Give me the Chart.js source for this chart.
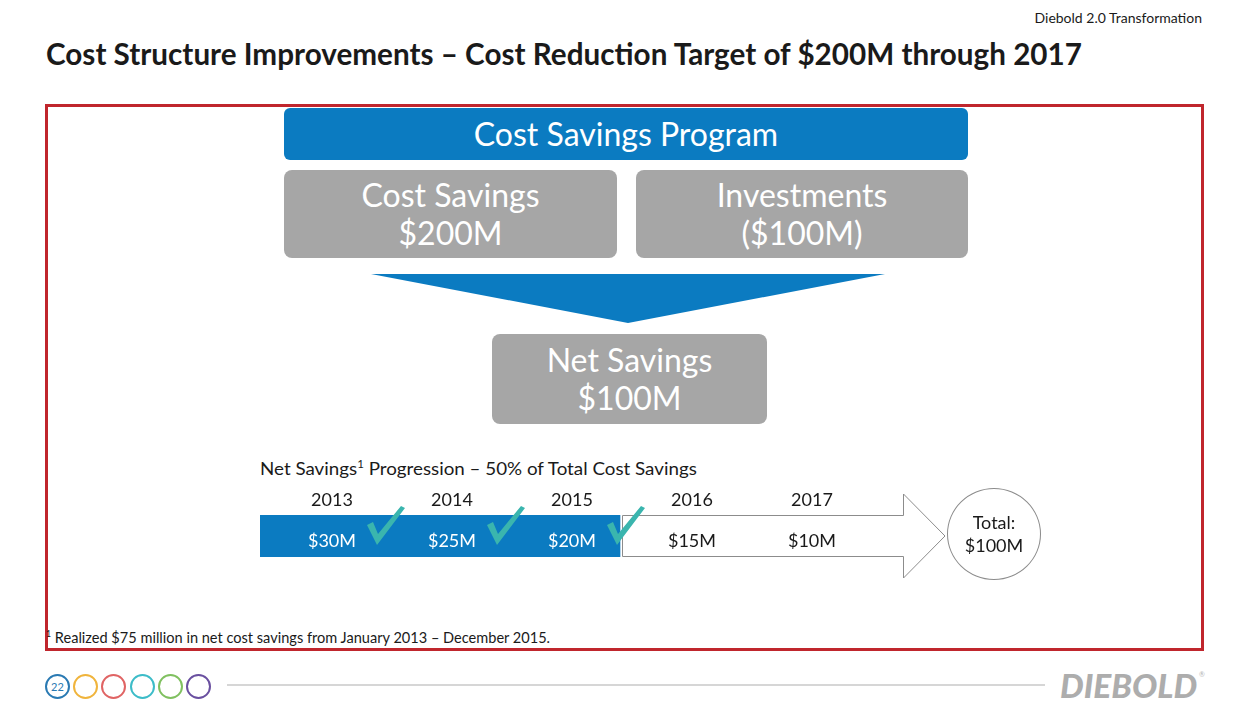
<!DOCTYPE html>
<html>
<head>
<meta charset="utf-8">
<title>Cost Structure Improvements</title>
<script src="https://cdn.jsdelivr.net/npm/chart.js@4"></script>
<style>
  body { margin: 0; width: 1248px; height: 720px; background: #fff; position: relative; overflow: hidden;
         font-family: Lato, 'Open Sans', sans-serif; color: #1a1a1a; }
  .abs { position: absolute; white-space: nowrap; line-height: 1; }
  .fit { transform-origin: left top; }
  .box { position: absolute; display: flex; flex-direction: column; align-items: center; justify-content: center;
         color: #fff; font-size: 32px; line-height: 38px; border-radius: 8px; }
  .grey { background: #a6a6a6; }
  .dot { position: absolute; top: 674px; width: 21px; height: 21px; border: 2px solid; border-radius: 50%;
         font-size: 11px; line-height: 21px; text-align: center; }
</style>
</head>
<body>
  <div class="abs" style="right:46px; top:11px; font-size:14px;">Diebold 2.0 Transformation</div>
  <div class="abs fit" data-w="1036" style="left:46px; top:38px; font-size:30px; font-weight:700;">Cost Structure Improvements – Cost Reduction Target of $200M through 2017</div>

  <div style="position:absolute; left:45px; top:104px; width:1153px; height:541px; border:3px solid #c0262d;"></div>

  <div class="box" style="left:284px; top:108px; width:684px; height:52px; background:#0b7bc1; border-radius:6px;">Cost Savings Program</div>
  <div class="box grey" style="left:284px; top:170px; width:333px; height:88px;"><div>Cost Savings</div><div>$200M</div></div>
  <div class="box grey" style="left:636px; top:170px; width:332px; height:88px;"><div>Investments</div><div>($100M)</div></div>
  <svg style="position:absolute; left:0; top:0;" width="1248" height="340">
    <polygon points="371,274 885,274 628,323" fill="#0b7bc1"/>
  </svg>
  <div class="box grey" style="left:492px; top:334px; width:275px; height:90px;"><div>Net Savings</div><div>$100M</div></div>

  <div class="abs fit" data-w="437" style="left:260px; top:458px; font-size:18px;">Net Savings<sup style="font-size:11px;">1</sup> Progression – 50% of Total Cost Savings</div>

  <canvas id="progression" width="720" height="110" style="position:absolute; left:240px; top:480px;"></canvas>

  <div style="position:absolute; left:947px; top:488px; width:92px; height:90px; border:1.5px solid #8c8c8c; border-radius:50%;
              display:flex; flex-direction:column; align-items:center; justify-content:center; font-size:18px; line-height:23px;">
    <div>Total:</div><div id="totalLabel"></div>
  </div>

  <div class="abs fit" data-w="504" style="left:46px; top:629px; font-size:15px;"><sup style="font-size:9px;">1</sup> Realized $75 million in net cost savings from January 2013 – December 2015.</div>

  <div class="dot" style="left:45px; border-color:#2a7ab3; color:#2a7ab3;">22</div>
  <div class="dot" style="left:73px; border-color:#f0b43c;"></div>
  <div class="dot" style="left:101px; border-color:#e06464;"></div>
  <div class="dot" style="left:130px; border-color:#3cbcc8;"></div>
  <div class="dot" style="left:158px; border-color:#80c060;"></div>
  <div class="dot" style="left:186px; border-color:#6a50a0;"></div>
  <div style="position:absolute; left:227px; top:684px; width:818px; height:2px; background:#d6d6d6;"></div>
  <div class="abs fit" data-w="137" style="left:1060px; top:670px; font-size:32px; font-weight:900; font-style:italic; color:#adadad;">DIEBOLD</div>
  <div class="abs" style="left:1199px; top:671px; font-size:7px; color:#b4b4b4;">®</div>

<script>
// Net savings progression, $M per year
const years = ['2013', '2014', '2015', '2016', '2017'];
const netSavings = [30, 25, 20, 15, 10];
const realized = [true, true, true, false, false];
const totalNetSavings = 100;

const blue = '#0b7bc1';
const teal = '#3ab5ae';

document.getElementById('totalLabel').textContent = `$${totalNetSavings}M`;

// squeeze wide texts to the width they have on the slide
document.querySelectorAll('.fit').forEach(el => {
    const w = +el.dataset.w;
    el.style.transform = `scaleX(${w / el.scrollWidth})`;
});

// tick mark, (vx, vy) is its bottom corner
function drawCheck(ctx, vx, vy) {
    ctx.beginPath();
    ctx.moveTo(vx - 9, vy - 19);
    ctx.lineTo(vx - 3, vy - 22);
    ctx.lineTo(vx + 2, vy - 10);
    ctx.lineTo(vx + 25, vy - 38);
    ctx.lineTo(vx + 29, vy - 36);
    ctx.lineTo(vx + 1, vy + 1);
    ctx.closePath();
    ctx.fill();
}

const progressionArrow = {
    id: 'progressionArrow',
    afterDatasetsDraw(chart) {
        const { ctx, chartArea: a } = chart;
        const bars = chart.getDatasetMeta(0).data;
        const first = bars[realized.indexOf(false)];
        const last = bars[bars.length - 1];
        const left = first.x - first.width / 2 + 2.5;
        const neck = last.x + last.width / 2 + 43;
        const tip = neck + 42;
        const mid = (a.top + a.bottom) / 2;

        ctx.save();
        ctx.strokeStyle = '#8c8c8c';
        ctx.lineWidth = 1;
        ctx.beginPath();
        ctx.moveTo(left, a.top + 0.5);
        ctx.lineTo(neck + 0.5, a.top + 0.5);
        ctx.lineTo(neck + 0.5, a.top - 21);
        ctx.lineTo(tip, mid);
        ctx.lineTo(neck + 0.5, a.bottom + 21);
        ctx.lineTo(neck + 0.5, a.bottom - 0.5);
        ctx.lineTo(left, a.bottom - 0.5);
        ctx.closePath();
        ctx.stroke();

        ctx.font = '18px Lato';
        ctx.textAlign = 'center';
        ctx.textBaseline = 'middle';
        bars.forEach((b, i) => {
            ctx.fillStyle = realized[i] ? '#fff' : '#1a1a1a';
            ctx.fillText(`$${netSavings[i]}M`, b.x + 12, mid + 5);
        });

        ctx.fillStyle = teal;
        bars.forEach((b, i) => {
            if (realized[i]) drawCheck(ctx, b.x + b.width / 2 - 4, mid + 8);
        });
        ctx.restore();
    }
};

new Chart(document.getElementById('progression'), {
    type: 'bar',
    data: {
        labels: years,
        datasets: [{
            // every year is an equal segment of the timeline
            data: years.map(() => 1),
            backgroundColor: realized.map(r => r ? blue : 'rgba(0,0,0,0)'),
            borderWidth: 0,
            barPercentage: 1,
            categoryPercentage: 1
        }]
    },
    options: {
        responsive: false,
        animation: false,
        layout: { padding: { left: 20, right: 100, top: 0, bottom: 33 } },
        plugins: { legend: { display: false }, tooltip: { enabled: false } },
        scales: {
            x: {
                position: 'top',
                grid: { display: false, drawTicks: false },
                border: { display: false },
                ticks: { color: '#1a1a1a', font: { family: 'Lato', size: 18 }, padding: 4, labelOffset: 12 },
                afterFit: s => { s.height = 35; }
            },
            y: { display: false, min: 0, max: 1 }
        }
    },
    plugins: [progressionArrow]
});
</script>
</body>
</html>
